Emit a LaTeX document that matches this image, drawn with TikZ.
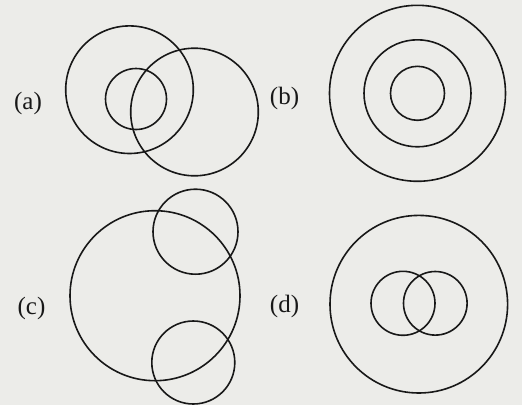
\documentclass[tikz,border=0pt]{standalone}
\usepackage{tikz}
\usepackage{fontspec}
\setmainfont{Liberation Serif}
\definecolor{paper}{RGB}{236,236,233}
\definecolor{ink}{RGB}{24,24,24}

\begin{document}
\begin{tikzpicture}[x=1pt,y=-1pt,line width=1.6pt,
  ring/.style={draw=ink},
  tag/.style={font=\fontsize{25}{28}\selectfont,text=ink,inner sep=0pt}]
  \fill[paper] (0,0) rectangle (522,405);
  \useasboundingbox (0,0) rectangle (522,405);
  % (a) two crossing circles, small one inside the left
  \node[tag] (taga) at (28,103) {(a)};
  \draw[ring] (129.5,89.7) circle (63.8pt);
  \draw[ring] (136,99) circle (30.5pt);
  \draw[ring] (194.5,112) circle (63.8pt);
  % (b) concentric
  \node[tag] (tagb) at (284.5,98) {(b)};
  \foreach \r in {88,53.5,27}
    \draw[ring] (417.5,93.3) circle (\r pt);
  % (c) big circle, two small ones on the right
  \node[tag] (tagc) at (31.5,308) {(c)};
  \draw[ring] (155,295.7) circle (85pt);
  \draw[ring] (195.5,231.7) circle (42.5pt);
  \draw[ring] (193.3,362.5) circle (41.5pt);
  % (d) two small crossing circles inside a big one
  \node[tag] (tagd) at (284.5,306.5) {(d)};
  \draw[ring] (418.8,304.2) circle (88.8pt);
  \draw[ring] (403,303.3) circle (32pt);
  \draw[ring] (435.3,303.3) circle (31.8pt);
\end{tikzpicture}
\end{document}
